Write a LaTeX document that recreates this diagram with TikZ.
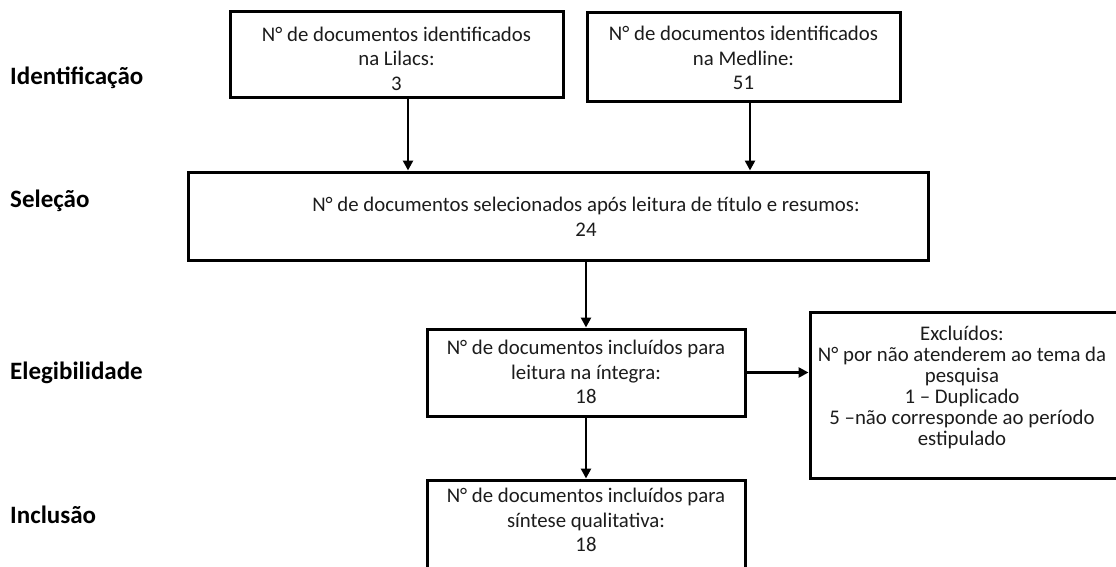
\documentclass[tikz,border=0pt]{standalone}
\usepackage{fontspec}
\setmainfont{Carlito}
\usetikzlibrary{arrows.meta}
\definecolor{txt}{RGB}{28,28,28}
\tikzset{
  box/.style={draw=black, line width=3pt, rectangle, inner sep=0pt, fill=white},
  btext/.style={align=center, text=txt, inner sep=0pt, font=\fontsize{20.8}{24.5}\selectfont},
  btexttight/.style={align=center, text=txt, inner sep=0pt, font=\fontsize{20.8}{21}\selectfont},
  stage/.style={anchor=base west, inner sep=0pt, text=black, font=\fontsize{25}{30}\selectfont\bfseries},
  arr/.style={line width=2.6pt, -{Triangle[length=10pt,width=10pt]}}
}
\begin{document}
\begin{tikzpicture}[x=1pt,y=-1pt]
\useasboundingbox (0,0) rectangle (1116,567);
\clip (0,0) rectangle (1116,567);
\fill[white] (0,0) rectangle (1116,567);

% stage labels
\node[stage] (lid) at (10,85) {Identificação};
\node[stage] (lsel) at (10,207.5) {Seleção};
\node[stage] (lele) at (10,379.5) {Elegibilidade};
\node[stage] (linc) at (10,523) {Inclusão};

% boxes
\node[box, minimum width=333pt, minimum height=86pt] (lil) at (396.5,55) {};
\node[box, minimum width=313pt, minimum height=89pt] (med) at (743.5,57.5) {};
\node[box, minimum width=740pt, minimum height=88pt] (sel) at (558,216) {};
\node[box, minimum width=318pt, minimum height=87pt] (ele) at (586,372.5) {};
\node[box, minimum width=315pt, minimum height=166pt] (excl) at (967.5,395) {};
\node[box, minimum width=318pt, minimum height=130pt] (inc) at (586,545) {};

% texts
\node[btext] (lilt) at (396.5,58.5) {N° de documentos identificados\\na Lilacs:\\3};
\node[btext] (medt) at (743.5,58) {N° de documentos identificados\\na Medline:\\51};
\node[btext] (selt) at (586,217) {N° de documentos selecionados após leitura de título e resumos:\\24};
\node[btext] (elet) at (586,372) {N° de documentos incluídos para\\leitura na íntegra:\\18};
\node[btexttight] (exclt) at (962,387) {Excluídos:\\N° por não atenderem ao tema da\\pesquisa\\1 – Duplicado\\5 –não corresponde ao período\\estipulado};
\node[btext] (inct) at (586,520) {N° de documentos incluídos para\\síntese qualitativa:\\18};

% connectors
\draw[arr] (408,0 |- lil.south) -- (408,0 |- sel.north);
\draw[arr] (750,0 |- med.south) -- (750,0 |- sel.north);
\draw[arr] (ele.north |- sel.south) -- (ele.north);
\draw[arr] (ele.east) -- (excl.west |- ele.east);
\draw[arr] (ele.south) -- (inc.north);
\end{tikzpicture}
\end{document}
